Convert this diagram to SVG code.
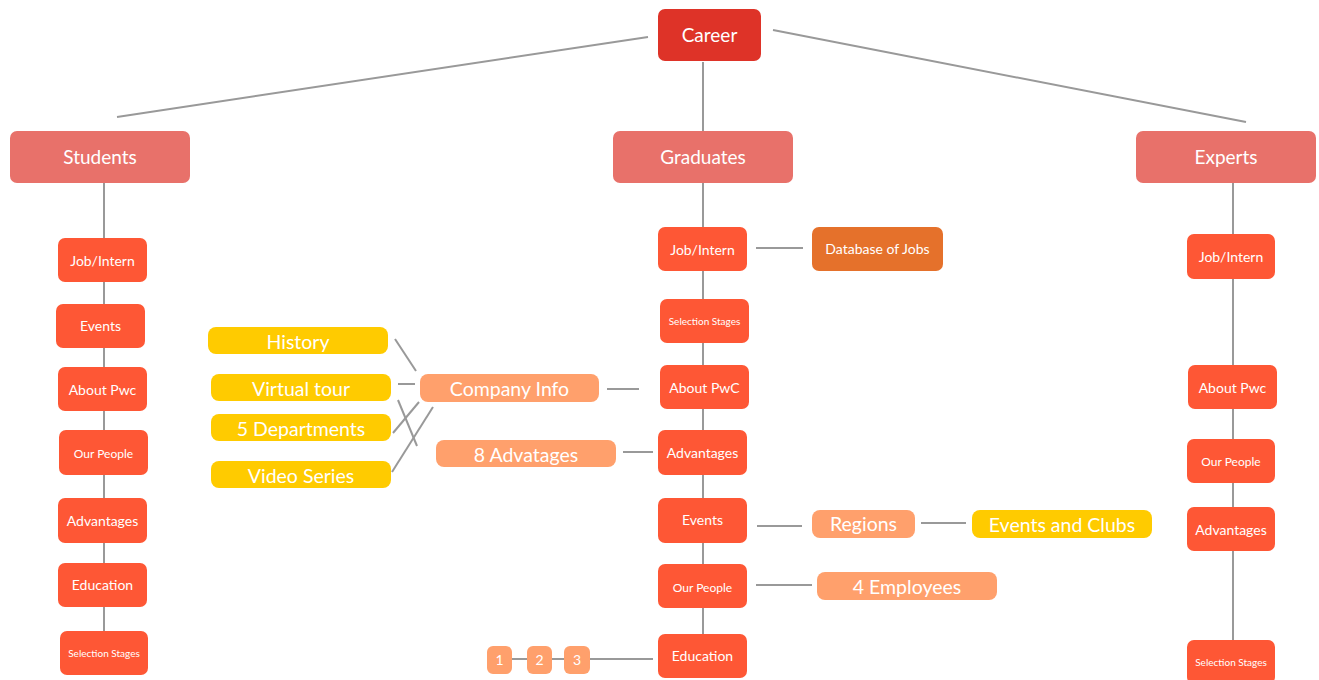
<svg xmlns="http://www.w3.org/2000/svg" width="1319" height="680" viewBox="0 0 1319 680">
<style>
text{font-family:Lato,"Open Sans","Liberation Sans",sans-serif;fill:#fff;text-anchor:middle;dominant-baseline:central}
.root{fill:#DE3328}
.l1{fill:#E8716A}
.l2{fill:#FE5735}
.yel{fill:#FFCB00}
.lo{fill:#FFA06C}
.db{fill:#E5712B}
.t19{font-size:19px}
.t18{font-size:19.5px}
.t14{font-size:14px}
.t13{font-size:14px}
.t11{font-size:12px}
.t9{font-size:10px}
#edges line{stroke:#999;stroke-width:2}
</style>
<rect width="1319" height="680" fill="#fff"/>
<g id="edges">
<line x1="648" y1="37" x2="117" y2="117"/>
<line x1="773" y1="30" x2="1246" y2="122"/>
<line x1="703" y1="62" x2="703" y2="131"/>
<line x1="104" y1="183" x2="104" y2="675"/>
<line x1="703" y1="183" x2="703" y2="634"/>
<line x1="1233" y1="183" x2="1233" y2="640"/>
<line x1="756" y1="248" x2="803" y2="248"/>
<line x1="607" y1="389" x2="639" y2="389"/>
<line x1="623" y1="452" x2="653" y2="452"/>
<line x1="757" y1="526" x2="802" y2="526"/>
<line x1="921" y1="523" x2="966" y2="523"/>
<line x1="756" y1="585" x2="812" y2="585"/>
<line x1="512" y1="659" x2="653" y2="659"/>
<line x1="395" y1="339" x2="416" y2="371"/>
<line x1="398" y1="384" x2="415" y2="384"/>
<line x1="398" y1="400" x2="417" y2="446"/>
<line x1="393" y1="433" x2="419" y2="402"/>
<line x1="392" y1="472" x2="433" y2="407"/>
</g>
<g id="career"><rect class="root" x="658" y="9" width="103" height="52" rx="7"/><text class="t19" x="709.5" y="34">Career</text></g>
<g id="students"><rect class="l1" x="10" y="131" width="180" height="52" rx="7"/><text class="t19" x="100" y="156">Students</text></g>
<g id="graduates"><rect class="l1" x="613" y="131" width="180" height="52" rx="7"/><text class="t19" x="703" y="156">Graduates</text></g>
<g id="experts"><rect class="l1" x="1136" y="131" width="180" height="52" rx="7"/><text class="t19" x="1226" y="156">Experts</text></g>

<g id="s-job"><rect class="l2" x="58" y="238" width="89" height="44" rx="7"/><text class="t13" x="102.5" y="260">Job/Intern</text></g>
<g id="s-events"><rect class="l2" x="56" y="304" width="89" height="44" rx="7"/><text class="t13" x="100.5" y="325">Events</text></g>
<g id="s-about"><rect class="l2" x="58" y="367" width="89" height="44" rx="7"/><text class="t13" x="102.5" y="389">About Pwc</text></g>
<g id="s-people"><rect class="l2" x="59" y="430" width="89" height="45" rx="7"/><text class="t11" x="103.5" y="453">Our People</text></g>
<g id="s-adv"><rect class="l2" x="58" y="498" width="89" height="45" rx="7"/><text class="t13" x="102.5" y="520">Advantages</text></g>
<g id="s-edu"><rect class="l2" x="58" y="563" width="89" height="44" rx="7"/><text class="t13" x="102.5" y="584">Education</text></g>
<g id="s-sel"><rect class="l2" x="60" y="631" width="88" height="44" rx="7"/><text class="t9" x="104" y="653">Selection Stages</text></g>

<g id="g-job"><rect class="l2" x="658" y="227" width="89" height="44" rx="7"/><text class="t13" x="702.5" y="249">Job/Intern</text></g>
<g id="g-db"><rect class="db" x="812" y="227" width="131" height="44" rx="7"/><text class="t13" x="877.5" y="248">Database of Jobs</text></g>
<g id="g-sel"><rect class="l2" x="660" y="299" width="89" height="44" rx="7"/><text class="t9" x="704.5" y="321">Selection Stages</text></g>
<g id="g-about"><rect class="l2" x="660" y="365" width="89" height="44" rx="7"/><text class="t13" x="704.5" y="387">About PwC</text></g>
<g id="g-adv"><rect class="l2" x="658" y="430" width="89" height="45" rx="7"/><text class="t13" x="702.5" y="452">Advantages</text></g>
<g id="g-events"><rect class="l2" x="658" y="498" width="89" height="45" rx="7"/><text class="t13" x="702.5" y="519">Events</text></g>
<g id="g-people"><rect class="l2" x="658" y="564" width="89" height="44" rx="7"/><text class="t11" x="702.5" y="587">Our People</text></g>
<g id="g-edu"><rect class="l2" x="658" y="634" width="89" height="44" rx="7"/><text class="t13" x="702.5" y="655">Education</text></g>

<g id="company"><rect class="lo" x="420" y="374" width="179" height="28" rx="8"/><text class="t18" x="509.5" y="388">Company Info</text></g>
<g id="adv8"><rect class="lo" x="436" y="440" width="180" height="27" rx="8"/><text class="t18" x="526" y="454">8 Advatages</text></g>
<g id="history"><rect class="yel" x="208" y="327" width="180" height="27" rx="8"/><text class="t18" x="298" y="341">History</text></g>
<g id="vtour"><rect class="yel" x="211" y="374" width="180" height="27" rx="8"/><text class="t18" x="301" y="388">Virtual tour</text></g>
<g id="depts"><rect class="yel" x="211" y="414" width="180" height="27" rx="8"/><text class="t18" x="301" y="428">5 Departments</text></g>
<g id="video"><rect class="yel" x="211" y="461" width="180" height="27" rx="8"/><text class="t18" x="301" y="475">Video Series</text></g>
<g id="regions"><rect class="lo" x="812" y="510" width="103" height="28" rx="8"/><text class="t18" x="863.5" y="523">Regions</text></g>
<g id="clubs"><rect class="yel" x="972" y="510" width="180" height="28" rx="8"/><text class="t18" x="1062" y="524">Events and Clubs</text></g>
<g id="emp"><rect class="lo" x="817" y="572" width="180" height="28" rx="8"/><text class="t18" x="907" y="586">4 Employees</text></g>
<g id="n1"><rect class="lo" x="487" y="646" width="25" height="28" rx="6"/><text class="t14" x="499.5" y="659">1</text></g>
<g id="n2"><rect class="lo" x="527" y="646" width="25" height="28" rx="6"/><text class="t14" x="539.5" y="659">2</text></g>
<g id="n3"><rect class="lo" x="564" y="646" width="26" height="28" rx="6"/><text class="t14" x="577" y="659">3</text></g>

<g id="e-job"><rect class="l2" x="1187" y="234" width="88" height="45" rx="7"/><text class="t13" x="1231" y="256">Job/Intern</text></g>
<g id="e-about"><rect class="l2" x="1188" y="365" width="89" height="44" rx="7"/><text class="t13" x="1232.5" y="387">About Pwc</text></g>
<g id="e-people"><rect class="l2" x="1187" y="439" width="88" height="44" rx="7"/><text class="t11" x="1231" y="461">Our People</text></g>
<g id="e-adv"><rect class="l2" x="1187" y="507" width="88" height="44" rx="7"/><text class="t13" x="1231" y="529">Advantages</text></g>
<g id="e-sel"><rect class="l2" x="1187" y="640" width="88" height="44" rx="7"/><text class="t9" x="1231" y="662">Selection Stages</text></g>
</svg>
